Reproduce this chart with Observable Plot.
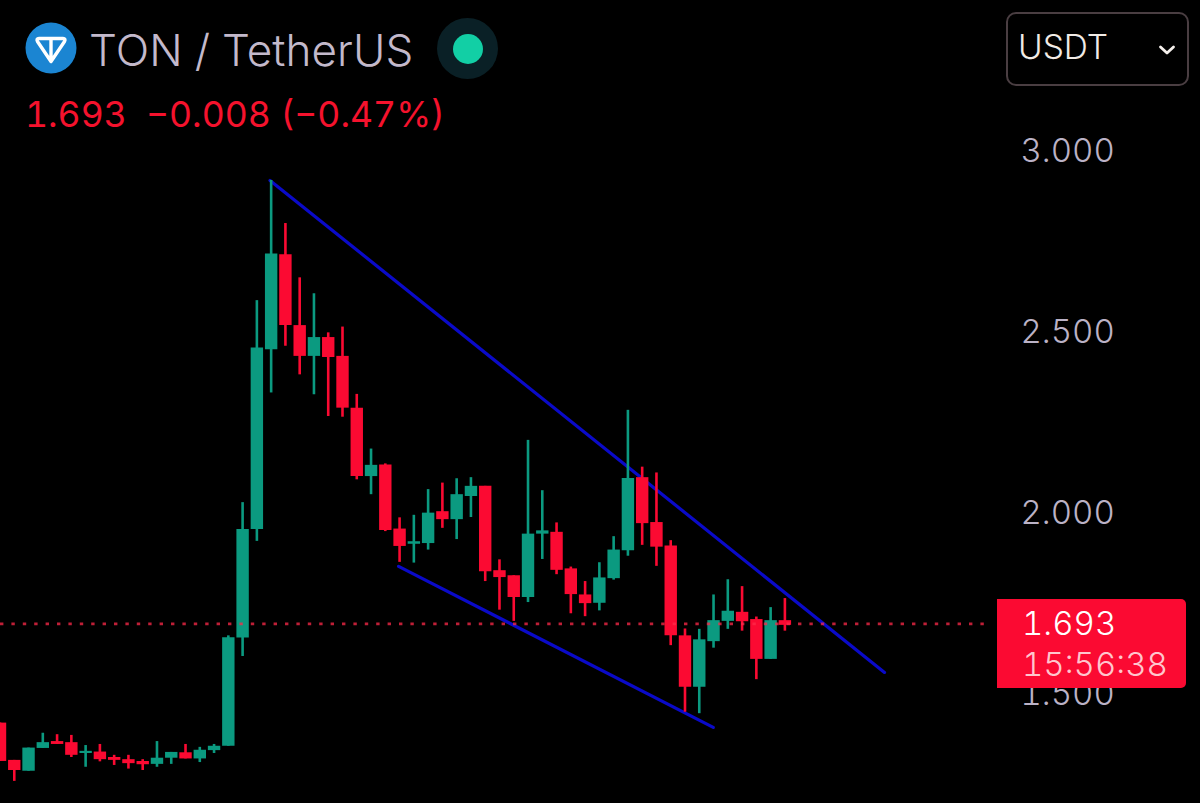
<!DOCTYPE html>
<html>
<head>
<meta charset="utf-8">
<script src="https://cdn.jsdelivr.net/npm/d3@7"></script>
<script src="https://cdn.jsdelivr.net/npm/@observablehq/plot@0.6"></script>
<style>
html,body{margin:0;padding:0;background:#000;overflow:hidden}
#wrap{position:relative;width:1200px;height:803px;background:#000;font-family:Inter,sans-serif;overflow:hidden;font-feature-settings:"tnum" 1}
#wrap svg{display:block}
.t{position:absolute;white-space:pre;line-height:1;font-variant-numeric:tabular-nums}
</style>
</head>
<body>
<div id="wrap">
  <div id="chart"></div>
  <svg style="position:absolute;left:25px;top:22px" width="52" height="52" viewBox="0 0 52 52">
    <circle cx="26" cy="26" r="25.500" fill="#1b85d2"/>
    <path d="M14 16.500H38Q41 16.500 39.500 19.500L26 39.500L12.500 19.500Q11 16.500 14 16.500ZM26 16.500V39" fill="none" stroke="#fff" stroke-width="3.400" stroke-linejoin="round"/>
  </svg>
  <div class="t" style="left:89px;top:28px;font-size:44px;font-weight:300;color:#c3b9cb;letter-spacing:0.1px">TON / TetherUS</div>
  <div style="position:absolute;left:437px;top:18px;width:61px;height:61px;border-radius:50%;background:#0a2026"></div>
  <div style="position:absolute;left:453px;top:33.500px;width:30px;height:30px;border-radius:50%;background:#12cfa5"></div>
  <div class="t" id="quote" style="left:25px;top:97px;font-size:35.600px;font-weight:400;color:#f5122d">1.693  −0.008 (−0.47%)</div>
  <div style="position:absolute;left:1006px;top:12px;width:179px;height:70px;border:2px solid #4a3e42;border-radius:10px"></div>
  <div class="t" style="left:1018px;top:31px;font-size:33.500px;font-weight:300;color:#f1ebe6">USDT</div>
  <svg style="position:absolute;left:1158px;top:44px" width="18" height="12" viewBox="0 0 18 12">
    <path d="M2.500 3L9 9L15.500 3" fill="none" stroke="#f5f0ec" stroke-width="2.800" stroke-linecap="round" stroke-linejoin="round"/>
  </svg>
  <div style="position:absolute;left:997px;top:599px;width:189px;height:89px;background:#fb0a32;border-radius:0 5px 5px 0"></div>
  <div class="t" style="left:1022px;top:607px;font-size:33px;font-weight:300;color:#fff">1.693</div>
  <div class="t" style="left:1022px;top:648px;font-size:33px;font-weight:300;color:#ffc6cd">15:56:38</div>
</div>
<script>
const opens  = [1.421,1.318,1.288,1.351,1.370,1.367,1.337,1.341,1.326,1.320,1.315,1.307,1.324,1.339,1.322,1.345,1.357,1.656,1.956,2.452,2.715,2.519,2.434,2.486,2.434,2.291,2.102,2.134,1.957,1.915,1.917,2.005,1.983,2.047,2.075,1.842,1.828,1.768,1.943,1.948,1.847,1.775,1.752,1.820,1.897,2.099,1.975,1.910,1.662,1.520,1.646,1.702,1.727,1.707,1.597,1.704];
const highs  = [1.421,1.318,1.352,1.393,1.389,1.387,1.359,1.362,1.332,1.332,1.320,1.370,1.340,1.362,1.354,1.362,1.662,2.030,2.588,2.920,2.801,2.651,2.607,2.499,2.515,2.329,2.178,2.137,1.988,1.995,2.066,2.084,2.096,2.099,2.075,1.872,1.828,2.202,2.063,1.974,1.852,1.812,1.864,1.936,2.285,2.128,2.112,1.925,1.681,1.680,1.775,1.817,1.798,1.714,1.740,1.765];
const lows   = [1.315,1.260,1.288,1.351,1.362,1.326,1.299,1.314,1.304,1.294,1.290,1.299,1.307,1.322,1.312,1.337,1.357,1.605,1.923,2.333,2.462,2.383,2.328,2.268,2.266,2.093,2.052,1.950,1.865,1.863,1.899,1.959,1.928,1.989,1.812,1.733,1.702,1.754,1.873,1.831,1.723,1.715,1.731,1.816,1.882,1.912,1.854,1.635,1.451,1.447,1.628,1.680,1.675,1.541,1.597,1.675];
const closes = [1.315,1.290,1.352,1.367,1.362,1.332,1.343,1.320,1.318,1.309,1.306,1.324,1.340,1.322,1.346,1.357,1.657,1.956,2.457,2.717,2.519,2.434,2.486,2.431,2.291,2.102,2.133,1.953,1.909,1.922,2.001,1.983,2.052,2.075,1.839,1.823,1.768,1.943,1.952,1.843,1.776,1.751,1.822,1.899,2.097,1.972,1.907,1.662,1.520,1.651,1.704,1.730,1.701,1.597,1.704,1.691];
const priceTicks = [1.5, 2, 2.5, 3];
const priceLine = 1.695;
const upperTrend = [{i:18.92,v:2.920},{i:61.98,v:1.561}];
const lowerTrend = [{i:27.93,v:1.854},{i:49.98,v:1.409}];

const GREEN = "#0b9a80", RED = "#fb0a32", BLUE = "#0a0ac8";
const candles = opens.map((o,i)=>({i,o,h:highs[i],l:lows[i],c:closes[i]}));
const col = d => d.c >= d.o ? GREEN : RED;

const chart = Plot.plot({
  width:1200, height:803,
  marginTop:0, marginBottom:0, marginLeft:0, marginRight:178,
  style:{background:"#000",color:"#bbb2c6",fontFamily:"Inter, sans-serif",overflow:"visible",fontVariantNumeric:"tabular-nums"},
  x:{domain:[0.035,71.65],axis:null},
  y:{domain:[1.1989,3.4171],axis:null},
  marks:[
    Plot.line(upperTrend,{x:"i",y:"v",stroke:BLUE,strokeWidth:3.2}),
    Plot.line(lowerTrend,{x:"i",y:"v",stroke:BLUE,strokeWidth:3.2}),
    Plot.ruleX(candles,{x:"i",y1:"l",y2:"h",stroke:col,strokeWidth:2.6}),
    Plot.ruleX(candles,{x:"i",y1:"o",y2:"c",stroke:col,strokeWidth:12.4}),
    Plot.ruleY([priceLine],{x1:0.035,x2:69.06,stroke:"#ff2a4a",strokeWidth:2.6,strokeOpacity:0.75,strokeDasharray:"3.4 8"}),
    Plot.axisY(priceTicks,{anchor:"right",tickSize:0,tickPadding:0,dx:-2,label:null,fontSize:33,fontWeight:300,tickFormat:d3.format(".3f")})
  ]
});
document.getElementById("chart").appendChild(chart);
</script>
</body>
</html>
